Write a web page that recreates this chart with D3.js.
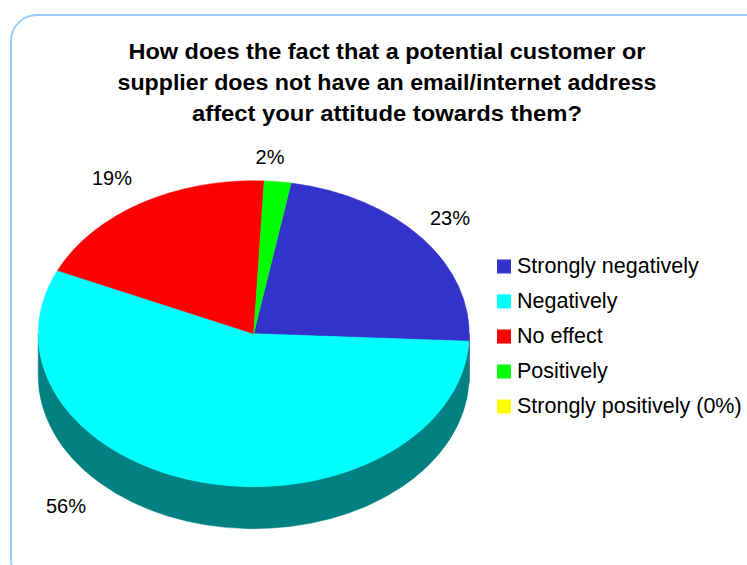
<!DOCTYPE html>
<html>
<head>
<meta charset="utf-8">
<script src="https://cdn.jsdelivr.net/npm/d3@7/dist/d3.min.js"></script>
<style>
  html, body { margin: 0; padding: 0; background: #ffffff; }
  svg { display: block; }
  text { font-family: "Liberation Sans", Arial, sans-serif; fill: #000; }
</style>
</head>
<body>
<svg id="chart" width="747" height="565"></svg>
<script>
// Survey answers and their shares (percent)
const categories = ["Strongly negatively", "Negatively", "No effect", "Positively", "Strongly positively"];
const legendLabels = ["Strongly negatively", "Negatively", "No effect", "Positively", "Strongly positively (0%)"];
const shares = [23, 56, 19, 2, 0];
const topColors = ["#3333CC", "#00FFFF", "#FF0000", "#00FF00", "#FFFF00"];
const sideColors = ["#1A1A66", "#008080", "#800000", "#008000", "#808000"];
const titleLines = [
  "How does the fact that a potential customer or",
  "supplier does not have an email/internet address",
  "affect your attitude towards them?"
];

// Layout
const W = 747, H = 565;
const cx = 253.7, cy = 333.7, rx = 215.5, ry = 153, depth = 42;
const firstAngle = 10 * Math.PI / 180;
const titleWidths = [517, 539, 390];
const labelSpots = [[450, 218], [66, 506], [112, 178], [270, 157], null];

const svg = d3.select("#chart");

// Chart frame
svg.append("rect")
  .attr("x", 11).attr("y", 15)
  .attr("width", 760).attr("height", 570)
  .attr("rx", 26).attr("ry", 26)
  .attr("fill", "#fff")
  .attr("stroke", "#99CCFF")
  .attr("stroke-width", 2);

// Title
const title = svg.append("g");
titleLines.forEach((line, i) => {
  title.append("text")
    .attr("x", 387)
    .attr("y", 58.5 + i * 31)
    .attr("text-anchor", "middle")
    .attr("font-size", 22)
    .attr("font-weight", "bold")
    .attr("textLength", titleWidths[i])
    .attr("lengthAdjust", "spacingAndGlyphs")
    .text(line);
});

// Pie angles (clockwise from 12 o'clock)
const pie = d3.pie().sort(null)
  .startAngle(firstAngle)
  .endAngle(firstAngle + 2 * Math.PI)
  .value(d => d);
const arcs = pie(shares);

const pt = (a, dy = 0) => [cx + rx * Math.sin(a), cy - ry * Math.cos(a) + dy];

function topPath(a0, a1) {
  const p0 = pt(a0), p1 = pt(a1);
  const large = (a1 - a0) > Math.PI ? 1 : 0;
  return `M${cx},${cy}L${p0[0]},${p0[1]}A${rx},${ry} 0 ${large} 1 ${p1[0]},${p1[1]}Z`;
}

function sidePath(b0, b1) {
  const p0 = pt(b0), p1 = pt(b1);
  const q0 = pt(b0, depth), q1 = pt(b1, depth);
  return `M${p0[0]},${p0[1]}A${rx},${ry} 0 0 1 ${p1[0]},${p1[1]}` +
         `L${q1[0]},${q1[1]}A${rx},${ry} 0 0 0 ${q0[0]},${q0[1]}Z`;
}

// Visible (front) portions of each slice's outer wall
const pieG = svg.append("g");
const sides = [];
arcs.forEach((d, i) => {
  if (d.endAngle - d.startAngle <= 0) return;
  [0, 2 * Math.PI].forEach(off => {
    const lo = Math.PI / 2 + off, hi = 3 * Math.PI / 2 + off;
    const b0 = Math.max(d.startAngle, lo), b1 = Math.min(d.endAngle, hi);
    if (b1 > b0) sides.push({ i, b0, b1 });
  });
});
pieG.selectAll("path.side").data(sides).join("path")
  .attr("class", "side")
  .attr("d", s => sidePath(s.b0, s.b1))
  .attr("fill", s => sideColors[s.i])
  .attr("stroke", s => sideColors[s.i])
  .attr("stroke-width", 0.5);

// Top faces
pieG.selectAll("path.top").data(arcs.filter(d => d.endAngle > d.startAngle)).join("path")
  .attr("class", "top")
  .attr("d", d => topPath(d.startAngle, d.endAngle))
  .attr("fill", d => topColors[d.index])
  .attr("stroke", d => topColors[d.index])
  .attr("stroke-width", 0.5);

// Percentage labels
const fmt = d3.format(".0%");
svg.append("g").selectAll("text").data(arcs.filter(d => labelSpots[d.index])).join("text")
  .attr("x", d => labelSpots[d.index][0])
  .attr("y", d => labelSpots[d.index][1] + 7)
  .attr("text-anchor", "middle")
  .attr("font-size", 20)
  .text(d => fmt(d.data / 100));

// Legend
const legend = svg.append("g").attr("transform", "translate(497,259.5)");
const rows = legend.selectAll("g").data(categories).join("g")
  .attr("transform", (d, i) => `translate(0,${i * 35})`);
rows.append("rect")
  .attr("width", 14).attr("height", 14)
  .attr("fill", (d, i) => topColors[i]);
rows.append("text")
  .attr("x", 20).attr("y", 13)
  .attr("font-size", 21.5)
  .text((d, i) => legendLabels[i]);
</script>
</body>
</html>
